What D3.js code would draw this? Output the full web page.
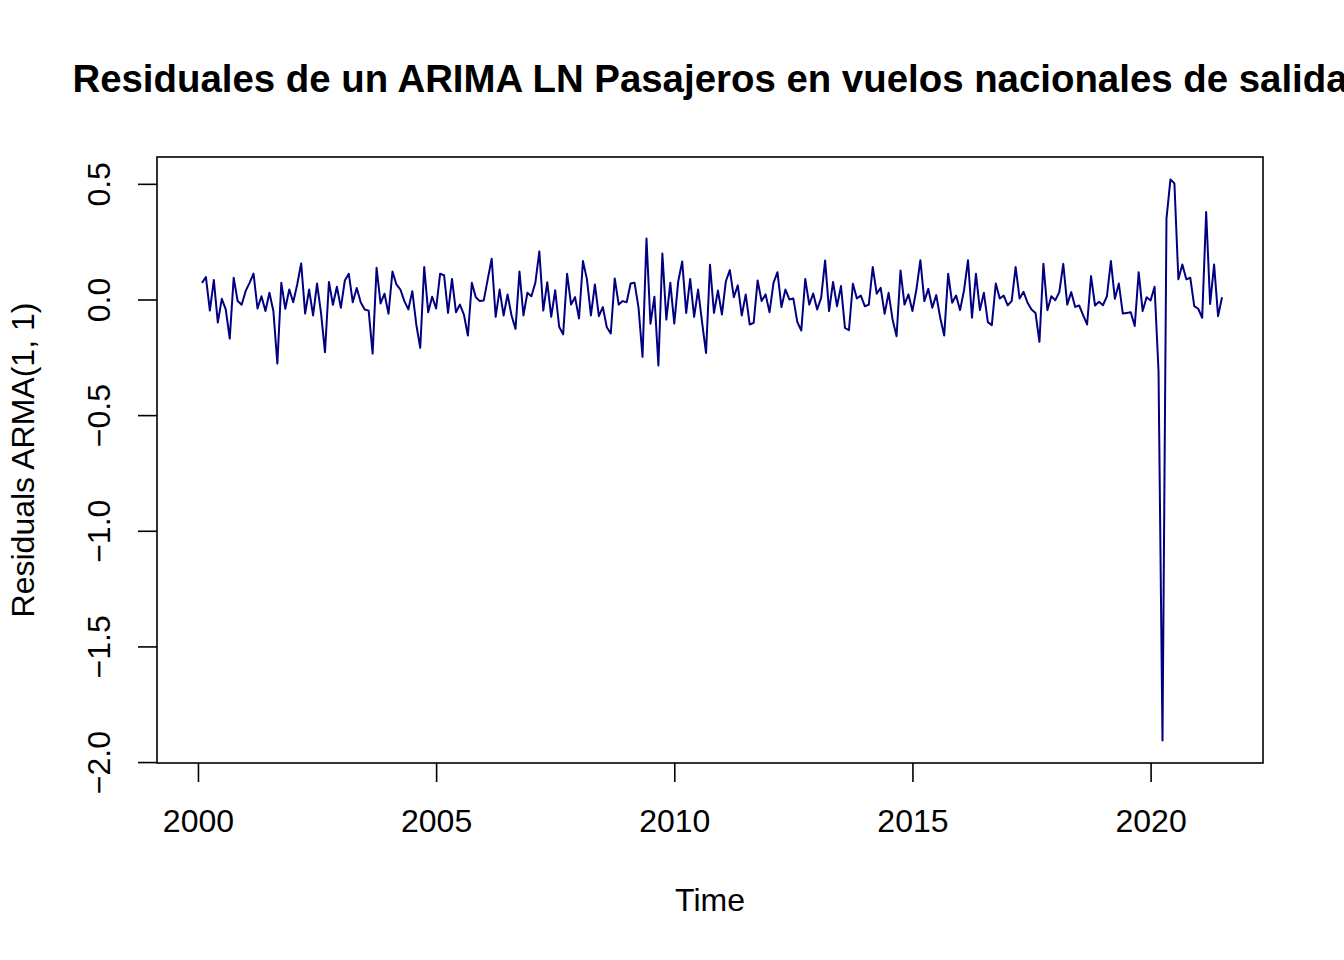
<!DOCTYPE html>
<html>
<head>
<meta charset="utf-8">
<script src="https://cdn.jsdelivr.net/npm/d3@7"></script>
<style>
    body { margin: 0; background: #fff; }
    svg text { font-family: "Liberation Sans", Arial, Helvetica, sans-serif; fill: #000; }
</style>
</head>
<body>
<svg id="chart" width="1344" height="960"></svg>
<script>
// monthly series: Jan 2000 (NA, not drawn) .. Jul 2021
let startYear = 2000;
let endTime = 2021.5;
let firstMonth = 1; // first residual shown is Feb 2000

let residuals = [
    0.072, 0.097, -0.048, 0.084, -0.100, 0.003, -0.043, -0.169, 0.094, -0.007, -0.023,
    0.036, 0.072, 0.112, -0.039, 0.014, -0.050, 0.029, -0.050, -0.277, 0.072, -0.040, 0.043,
    -0.012, 0.065, 0.156, -0.061, 0.043, -0.069, 0.069, -0.058, -0.228, 0.076, -0.023, 0.055,
    -0.036, 0.082, 0.111, -0.012, 0.050, -0.012, -0.043, -0.048, -0.234, 0.137, -0.017, 0.025,
    -0.062, 0.121, 0.065, 0.043, -0.007, -0.043, 0.036, -0.108, -0.209, 0.140, -0.055, 0.012,
    -0.039, 0.111, 0.105, -0.058, 0.089, -0.055, -0.022, -0.065, -0.156, 0.072, 0.010, -0.007,
    -0.004, 0.087, 0.176, -0.075, 0.043, -0.069, 0.022, -0.069, -0.127, 0.121, -0.069, 0.029,
    0.014, 0.072, 0.208, -0.048, 0.075, -0.075, 0.040, -0.118, -0.151, 0.111, -0.022, 0.010,
    -0.082, 0.166, 0.087, -0.069, 0.065, -0.072, -0.033, -0.120, -0.147, 0.091, -0.022, -0.007,
    -0.012, 0.069, 0.072, -0.036, -0.248, 0.264, -0.105, 0.012, -0.285, 0.199, -0.087, 0.072,
    -0.104, 0.079, 0.164, -0.058, 0.089, -0.075, 0.043, -0.098, -0.231, 0.150, -0.058, 0.039,
    -0.065, 0.079, 0.127, 0.010, 0.061, -0.069, 0.022, -0.108, -0.101, 0.082, -0.007, 0.022,
    -0.055, 0.072, 0.118, -0.033, 0.043, 0.000, 0.004, -0.098, -0.134, 0.089, -0.022, 0.026,
    -0.043, 0.007, 0.169, -0.050, 0.076, -0.029, 0.058, -0.123, -0.133, 0.068, 0.004, 0.017,
    -0.029, -0.023, 0.140, 0.025, 0.050, -0.062, 0.029, -0.087, -0.159, 0.125, -0.022, 0.022,
    -0.050, 0.043, 0.170, -0.007, 0.046, -0.036, 0.019, -0.079, -0.156, 0.111, -0.014, 0.017,
    -0.046, 0.040, 0.170, -0.079, 0.111, -0.046, 0.029, -0.098, -0.111, 0.069, 0.004, 0.017,
    -0.025, -0.007, 0.140, 0.004, 0.033, -0.014, -0.043, -0.058, -0.183, 0.154, -0.046, 0.014,
    -0.003, 0.032, 0.154, -0.022, 0.032, -0.032, -0.026, -0.068, -0.108, 0.101, -0.026, -0.010,
    -0.025, 0.014, 0.166, 0.003, 0.069, -0.061, -0.058, -0.055, -0.115, 0.118, -0.050, 0.010,
    -0.004, 0.055, -0.310, -1.907, 0.349, 0.519, 0.502, 0.087, 0.151, 0.087, 0.094, -0.029,
    -0.040, -0.079, 0.378, -0.019, 0.151, -0.072, 0.010
];

let xTicks = [2000, 2005, 2010, 2015, 2020];
let yTicks = [0.5, 0.0, -0.5, -1.0, -1.5, -2.0];

let titleText = 'Residuales de un ARIMA LN Pasajeros en vuelos nacionales de salida';
let xLabel = 'Time';
let yLabel = 'Residuals ARMA(1, 1)';

document.addEventListener('DOMContentLoaded', function() {
    drawChart();
});

function pad4(ext) {
    // R style 4% range extension
    let d = (ext[1] - ext[0]) * 0.04;
    return [ext[0] - d, ext[1] + d];
}

function drawChart() {
    let svg = d3.select('#chart');
    let box = {left: 157, right: 1263, top: 157, bottom: 763};

    let points = residuals.map((v, i) => ({t: startYear + (i + firstMonth) / 12, v: v}));

    let x = d3.scaleLinear()
        .domain(pad4([startYear, endTime]))
        .range([box.left, box.right]);
    let y = d3.scaleLinear()
        .domain(pad4(d3.extent(residuals)))
        .range([box.bottom, box.top]);

    // series
    let line = d3.line().x(d => x(d.t)).y(d => y(d.v));
    svg.append('path')
        .datum(points)
        .attr('d', line)
        .attr('fill', 'none')
        .attr('stroke', '#000080')
        .attr('stroke-width', 2)
        .attr('stroke-linejoin', 'round');

    // box
    svg.append('rect')
        .attr('x', box.left)
        .attr('y', box.top)
        .attr('width', box.right - box.left)
        .attr('height', box.bottom - box.top)
        .attr('fill', 'none')
        .attr('stroke', '#000')
        .attr('stroke-width', 1.6);

    // x axis
    let xAxis = svg.append('g')
        .attr('transform', 'translate(0,' + box.bottom + ')')
        .call(d3.axisBottom(x).tickValues(xTicks).tickFormat(d3.format('d')).tickSize(19).tickPadding(27).tickSizeOuter(0));
    xAxis.select('.domain').remove();
    xAxis.selectAll('line').attr('stroke', '#000').attr('stroke-width', 1.6);
    xAxis.selectAll('text').attr('font-size', 32).attr('font-family', null);

    // y axis, labels rotated like R
    let yAxis = svg.append('g')
        .attr('transform', 'translate(' + box.left + ',0)')
        .call(d3.axisLeft(y).tickValues(yTicks).tickFormat(d3.format('.1f')).tickSize(19).tickSizeOuter(0));
    yAxis.select('.domain').remove();
    yAxis.selectAll('line').attr('stroke', '#000').attr('stroke-width', 1.6);
    yAxis.selectAll('text')
        .attr('x', null)
        .attr('dy', null)
        .attr('font-size', 32)
        .attr('font-family', null)
        .attr('text-anchor', 'middle')
        .attr('transform', 'translate(-47,0) rotate(-90)');

    svg.append('text')
        .attr('x', (box.left + box.right) / 2)
        .attr('y', 92)
        .attr('text-anchor', 'middle')
        .attr('font-size', 38.4)
        .attr('font-weight', 'bold')
        .text(titleText);

    svg.append('text')
        .attr('x', (box.left + box.right) / 2)
        .attr('y', 911)
        .attr('text-anchor', 'middle')
        .attr('font-size', 32)
        .text(xLabel);

    svg.append('text')
        .attr('transform', 'translate(34,' + (box.top + box.bottom) / 2 + ') rotate(-90)')
        .attr('text-anchor', 'middle')
        .attr('font-size', 32)
        .text(yLabel);
}
</script>
</body>
</html>
